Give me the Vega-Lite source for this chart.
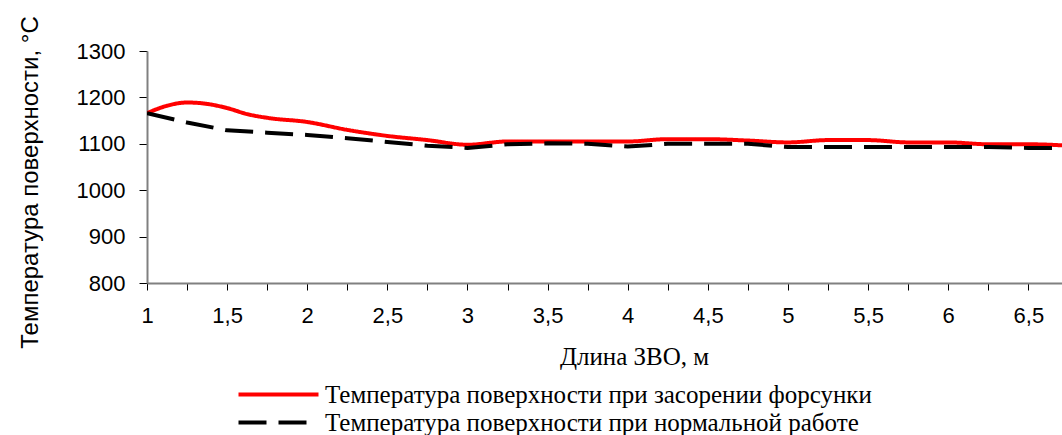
{
  "$schema": "https://vega.github.io/schema/vega-lite/v6.json",
  "autosize": {"type": "none"},
  "width": 915,
  "height": 232,
  "padding": {"left": 147, "top": 51, "right": 0, "bottom": 152},
  "background": "white",
  "config": {"view": {"stroke": null}},
  "data": {"values": [
    {"x": 1.0, "t": 1166, "s": "Температура поверхности при засорении форсунки"},
    {"x": 1.125, "t": 1182, "s": "Температура поверхности при засорении форсунки"},
    {"x": 1.25, "t": 1189, "s": "Температура поверхности при засорении форсунки"},
    {"x": 1.375, "t": 1186, "s": "Температура поверхности при засорении форсунки"},
    {"x": 1.5, "t": 1177, "s": "Температура поверхности при засорении форсунки"},
    {"x": 1.625, "t": 1164, "s": "Температура поверхности при засорении форсунки"},
    {"x": 1.75, "t": 1156, "s": "Температура поверхности при засорении форсунки"},
    {"x": 2.0, "t": 1147, "s": "Температура поверхности при засорении форсунки"},
    {"x": 2.25, "t": 1130, "s": "Температура поверхности при засорении форсунки"},
    {"x": 2.5, "t": 1117, "s": "Температура поверхности при засорении форсунки"},
    {"x": 2.75, "t": 1108, "s": "Температура поверхности при засорении форсунки"},
    {"x": 3.0, "t": 1098, "s": "Температура поверхности при засорении форсунки"},
    {"x": 3.25, "t": 1105, "s": "Температура поверхности при засорении форсунки"},
    {"x": 3.5, "t": 1105, "s": "Температура поверхности при засорении форсунки"},
    {"x": 3.75, "t": 1105, "s": "Температура поверхности при засорении форсунки"},
    {"x": 4.0, "t": 1105, "s": "Температура поверхности при засорении форсунки"},
    {"x": 4.25, "t": 1110, "s": "Температура поверхности при засорении форсунки"},
    {"x": 4.5, "t": 1110, "s": "Температура поверхности при засорении форсунки"},
    {"x": 4.75, "t": 1107, "s": "Температура поверхности при засорении форсунки"},
    {"x": 5.0, "t": 1103, "s": "Температура поверхности при засорении форсунки"},
    {"x": 5.25, "t": 1108, "s": "Температура поверхности при засорении форсунки"},
    {"x": 5.5, "t": 1108, "s": "Температура поверхности при засорении форсунки"},
    {"x": 5.75, "t": 1103, "s": "Температура поверхности при засорении форсунки"},
    {"x": 6.0, "t": 1103, "s": "Температура поверхности при засорении форсунки"},
    {"x": 6.25, "t": 1099, "s": "Температура поверхности при засорении форсунки"},
    {"x": 6.5, "t": 1099, "s": "Температура поверхности при засорении форсунки"},
    {"x": 6.75, "t": 1096, "s": "Температура поверхности при засорении форсунки"},
    {"x": 1.0, "t": 1166, "s": "Температура поверхности при нормальной работе"},
    {"x": 1.25, "t": 1146, "s": "Температура поверхности при нормальной работе"},
    {"x": 1.5, "t": 1129, "s": "Температура поверхности при нормальной работе"},
    {"x": 1.75, "t": 1124, "s": "Температура поверхности при нормальной работе"},
    {"x": 2.0, "t": 1119, "s": "Температура поверхности при нормальной работе"},
    {"x": 2.25, "t": 1112, "s": "Температура поверхности при нормальной работе"},
    {"x": 2.5, "t": 1104, "s": "Температура поверхности при нормальной работе"},
    {"x": 2.75, "t": 1096, "s": "Температура поверхности при нормальной работе"},
    {"x": 3.0, "t": 1091, "s": "Температура поверхности при нормальной работе"},
    {"x": 3.25, "t": 1099, "s": "Температура поверхности при нормальной работе"},
    {"x": 3.5, "t": 1101, "s": "Температура поверхности при нормальной работе"},
    {"x": 3.75, "t": 1100, "s": "Температура поверхности при нормальной работе"},
    {"x": 4.0, "t": 1094, "s": "Температура поверхности при нормальной работе"},
    {"x": 4.25, "t": 1100, "s": "Температура поверхности при нормальной работе"},
    {"x": 4.5, "t": 1100, "s": "Температура поверхности при нормальной работе"},
    {"x": 4.75, "t": 1100, "s": "Температура поверхности при нормальной работе"},
    {"x": 5.0, "t": 1093, "s": "Температура поверхности при нормальной работе"},
    {"x": 5.25, "t": 1093, "s": "Температура поверхности при нормальной работе"},
    {"x": 5.5, "t": 1093, "s": "Температура поверхности при нормальной работе"},
    {"x": 5.75, "t": 1093, "s": "Температура поверхности при нормальной работе"},
    {"x": 6.0, "t": 1093, "s": "Температура поверхности при нормальной работе"},
    {"x": 6.25, "t": 1093, "s": "Температура поверхности при нормальной работе"},
    {"x": 6.5, "t": 1091, "s": "Температура поверхности при нормальной работе"},
    {"x": 6.75, "t": 1091, "s": "Температура поверхности при нормальной работе"}
  ]},
  "encoding": {
    "x": {
      "field": "x", "type": "quantitative",
      "scale": {"domain": [1, 6.71], "nice": false, "zero": false},
      "axis": {
        "title": "Длина ЗВО, м",
        "titleFont": "Liberation Serif", "titleFontSize": 25, "titleFontWeight": "normal", "titleColor": "#000",
        "titleX": 487, "titleY": 73, "titleBaseline": "middle", "titleAlign": "center",
        "values": [1, 1.25, 1.5, 1.75, 2, 2.25, 2.5, 2.75, 3, 3.25, 3.5, 3.75, 4, 4.25, 4.5, 4.75, 5, 5.25, 5.5, 5.75, 6, 6.25, 6.5],
        "format": ".2~f",
        "labelExpr": "(datum.value * 2) % 1 == 0 ? replace(datum.label, '.', ',') : ''",
        "labelFont": "Liberation Sans", "labelFontSize": 22, "labelColor": "#000",
        "labelPadding": 15, "labelOverlap": false, "labelFlush": false,
        "tickSize": 7, "tickColor": "#000", "tickWidth": 1,
        "domainColor": "#808080", "domainWidth": 2, "grid": false
      }
    },
    "y": {
      "field": "t", "type": "quantitative",
      "scale": {"domain": [800, 1300], "nice": false, "zero": false},
      "axis": {
        "title": "Температура поверхности, °С",
        "titleFont": "Liberation Sans", "titleFontSize": 24, "titleFontWeight": "normal", "titleColor": "#000",
        "titleAngle": -90, "titleX": -110, "titleY": 131, "titleBaseline": "alphabetic", "titleAlign": "center",
        "values": [800, 900, 1000, 1100, 1200, 1300],
        "format": "d",
        "labelFont": "Liberation Sans", "labelFontSize": 22, "labelColor": "#000",
        "labelPadding": 14,
        "tickSize": 8, "tickColor": "#000", "tickWidth": 1,
        "domainColor": "#808080", "domainWidth": 2, "grid": false
      }
    },
    "color": {
      "field": "s", "type": "nominal",
      "scale": {"domain": ["Температура поверхности при засорении форсунки", "Температура поверхности при нормальной работе"], "range": ["#ff0000", "#000000"]},
      "legend": {
        "title": null, "orient": "none", "legendX": 79, "legendY": 331,
        "symbolType": "M0,0H16", "symbolSize": 100, "symbolStrokeWidth": 4,
        "labelFont": "Liberation Serif", "labelFontSize": 25, "labelColor": "#000",
        "labelLimit": 900, "labelOffset": 74, "rowPadding": 2
      }
    },
    "strokeDash": {
      "field": "s", "type": "nominal",
      "scale": {"domain": ["Температура поверхности при засорении форсунки", "Температура поверхности при нормальной работе"], "range": [[1, 0], [28, 12]]},
      "legend": null
    }
  },
  "layer": [
    {
      "transform": [{"filter": "datum.s == 'Температура поверхности при засорении форсунки'"}],
      "mark": {"type": "line", "strokeWidth": 4, "interpolate": "monotone", "clip": true}
    },
    {
      "transform": [{"filter": "datum.s == 'Температура поверхности при нормальной работе'"}],
      "mark": {"type": "line", "strokeWidth": 4, "clip": true}
    }
  ]
}
